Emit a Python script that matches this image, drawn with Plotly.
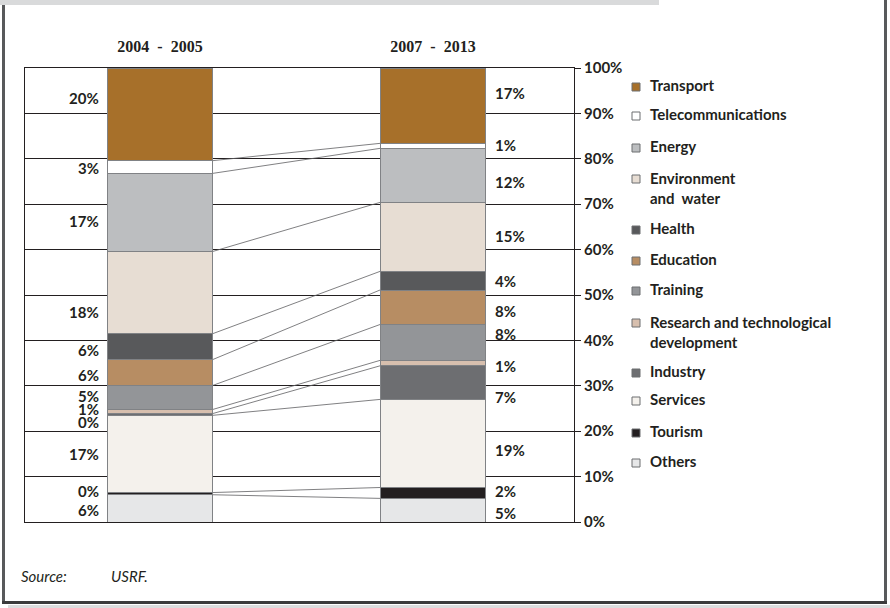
import plotly.graph_objects as go

# ---- data ---------------------------------------------------------------
periods = ["2004\u00a0\u00a0-\u00a0\u00a02005", "2007\u00a0\u00a0-\u00a0\u00a02013"]
sectors = ["Transport", "Telecommunications", "Energy", "Environment<br>and  water",
           "Health", "Education", "Training", "Research and technological<br>development",
           "Industry", "Services", "Tourism", "Others"]
share_2004_2005 = [20.4, 2.8, 17.2, 18.1, 5.7, 5.7, 5.3, 0.9, 0.4, 17.01, 0.49, 6.0]
share_2007_2013 = [16.6, 1.1, 11.9, 15.2, 4.1, 7.6, 7.9, 1.2, 7.4, 19.4, 2.4, 5.2]
y_ticks = [0, 10, 20, 30, 40, 50, 60, 70, 80, 90, 100]
source_label = "Source:"
source_text = "USRF."

# ---- styling --------------------------------------------------------------
colors = ["#a7702a", "#ffffff", "#bcbec0", "#e7ddd3", "#58595b", "#b78d63",
          "#939598", "#d7bfae", "#6d6e71", "#f4f1ec", "#231f20", "#e6e7e8"]
W, H = 890, 608
PLOT_L, PLOT_R, PLOT_T, PLOT_B = 25, 574, 68, 522
BAR_W = 0.388
X_RANGE = [-0.4945, 1.5165]
BOLD = "Lato"
TXT = "#231f20"

# label nudges in pixels (positive = down), per sector, for each bar
nudge_left = [-16, 1, 9, 19, 3, 3, -1, -2, 8, 0, -3, 2]
nudge_right = [-13, -1, 7, -1, 0, 4, -8, 3, 14, 7, -2, 3]


def px_x(p):
    return p / W


def px_y(p):
    return 1 - p / H


fig = go.Figure()

# stacked bars, bottom segment first
for name, c, a, b in reversed(list(zip(sectors, colors, share_2004_2005, share_2007_2013))):
    fig.add_trace(go.Bar(
        x=[0, 1], y=[a, b], width=BAR_W, name=name,
        marker=dict(color=c, line=dict(color="#808285", width=1)),
        showlegend=False, hoverinfo="skip"))


def boundaries(vals):
    """top edge of every segment, listed top segment first"""
    tops = []
    run = sum(vals)
    for v in vals:
        tops.append(run)
        run -= v
    return tops


tops1 = boundaries(share_2004_2005)
tops2 = boundaries(share_2007_2013)

# connector lines between matching segment edges
for t1, t2 in zip(tops1[1:], tops2[1:]):
    fig.add_trace(go.Scatter(
        x=[BAR_W / 2, 1 - BAR_W / 2], y=[t1, t2], mode="lines",
        line=dict(color="#5f6062", width=0.8), showlegend=False, hoverinfo="skip"))

label_font = dict(family=BOLD, size=15, color=TXT, weight="bold")
annotations = []
# value labels
for i, (v1, v2) in enumerate(zip(share_2004_2005, share_2007_2013)):
    c1 = tops1[i] - v1 / 2
    c2 = tops2[i] - v2 / 2
    annotations.append(dict(
        x=-BAR_W / 2, y=c1, xref="x", yref="y", text=f"{round(v1)}%",
        xanchor="right", yanchor="middle", xshift=-6, yshift=-nudge_left[i],
        showarrow=False, font=label_font))
    annotations.append(dict(
        x=1 + BAR_W / 2, y=c2, xref="x", yref="y", text=f"{round(v2)}%",
        xanchor="left", yanchor="middle", xshift=7, yshift=-nudge_right[i],
        showarrow=False, font=label_font))

# legend built from the sector list
legend_y = [85, 114, 146, 177, 228, 259, 289, 321, 371, 399, 431, 461]
shapes = []
for name, c, ly in zip(sectors, colors, legend_y):
    shapes.append(dict(
        type="rect", xref="paper", yref="paper",
        x0=px_x(632), x1=px_x(640), y0=px_y(ly + 6), y1=px_y(ly - 2),
        fillcolor=c, line=dict(color="#6d6e71", width=1)))
    annotations.append(dict(
        x=px_x(648), y=px_y(ly), xref="paper", yref="paper", text=name,
        xanchor="left", yanchor="top" if "<br>" in name else "middle",
        yshift=10 if "<br>" in name else 0, align="left", showarrow=False,
        font=label_font))

# source line
src_font = dict(family="Lato", size=15, color=TXT, style="italic")
annotations.append(dict(x=px_x(19), y=px_y(576), xref="paper", yref="paper",
                        text=source_label, xanchor="left", yanchor="middle",
                        showarrow=False, font=src_font))
annotations.append(dict(x=px_x(109), y=px_y(576), xref="paper", yref="paper",
                        text=source_text, xanchor="left", yanchor="middle",
                        showarrow=False, font=src_font))

# page frame
shapes += [
    dict(type="rect", xref="paper", yref="paper", x0=0, x1=px_x(659), y0=px_y(5), y1=1,
         fillcolor="#d9dadb", line=dict(width=0), layer="below"),
    dict(type="rect", xref="paper", yref="paper", x0=px_x(8), x1=1, y0=0, y1=px_y(605),
         fillcolor="#dcddde", line=dict(width=0), layer="below"),
    dict(type="line", xref="paper", yref="paper", x0=px_x(3.5), x1=px_x(3.5),
         y0=px_y(5), y1=px_y(603.5), line=dict(color="#58595b", width=3)),
    dict(type="line", xref="paper", yref="paper", x0=px_x(885.5), x1=px_x(885.5),
         y0=1, y1=px_y(603.5), line=dict(color="#58595b", width=3)),
    dict(type="line", xref="paper", yref="paper", x0=px_x(2), x1=px_x(887),
         y0=px_y(602.5), y1=px_y(602.5), line=dict(color="#3b3b3c", width=3)),
]

fig.update_layout(
    width=W, height=H, autosize=False,
    margin=dict(l=0, r=0, t=0, b=0, pad=0, autoexpand=False),
    paper_bgcolor="white", plot_bgcolor="white",
    barmode="stack", showlegend=False,
    annotations=annotations, shapes=shapes,
    xaxis=dict(domain=[px_x(PLOT_L), px_x(PLOT_R)], range=X_RANGE, automargin=False,
               tickvals=[0, 1], ticktext=periods, side="top", ticks="",
               showgrid=False, zeroline=False, showline=True, mirror=True,
               linecolor=TXT, linewidth=1, ticklabelstandoff=9,
               tickfont=dict(family="Liberation Serif", size=16, color=TXT, weight="bold")),
    yaxis=dict(domain=[px_y(PLOT_B), px_y(PLOT_T)], range=[0, 100], automargin=False,
               tickvals=y_ticks, ticktext=[f"{t}%" for t in y_ticks], side="right",
               ticks="outside", ticklen=6, tickcolor=TXT, tickwidth=1,
               showgrid=True, gridcolor=TXT, gridwidth=1, zeroline=False,
               showline=True, mirror=True, linecolor=TXT, linewidth=1,
               tickfont=label_font),
)

fig.write_html("out.html", config={"responsive": False})

# keep the page flush with the window edges
with open("out.html", encoding="utf-8") as fh:
    page = fh.read()
page = page.replace("<head>", "<head><style>html,body{margin:0;padding:0;overflow:hidden}</style>", 1)
with open("out.html", "w", encoding="utf-8") as fh:
    fh.write(page)
